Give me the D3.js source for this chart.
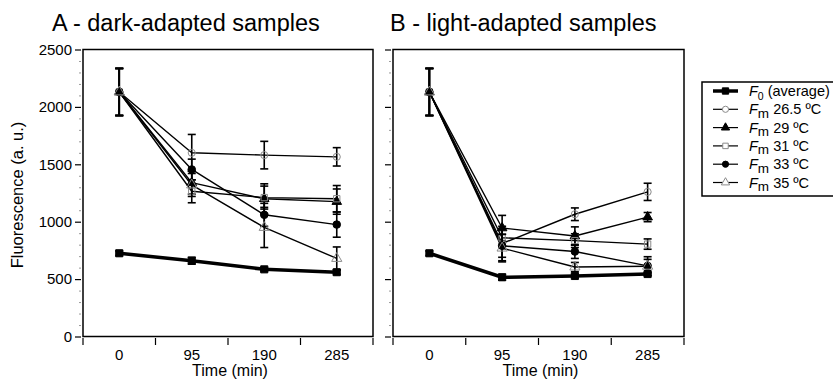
<!DOCTYPE html>
<html><head><meta charset="utf-8">
<script src="https://cdn.jsdelivr.net/npm/d3@7"></script>
<style>
body{margin:0;background:#fff;}
text{font-family:"Liberation Sans",Arial,Helvetica,sans-serif;fill:#000;}
</style></head>
<body><svg id="chart" width="833" height="382"></svg>
<script>
// ---------- DATA ----------
const times = ["0", "95", "190", "285"];
const yTicks = [0, 500, 1000, 1500, 2000, 2500];
const panelTitles = ["A - dark-adapted samples", "B - light-adapted samples"];
const seriesSub = ["0", "m", "m", "m", "m", "m"];
const seriesRest = [" (average)", " 26.5 ºC", " 29 ºC", " 31 ºC", " 33 ºC", " 35 ºC"];

// dark-adapted (A)
const darkF0     = [725, 660, 585, 560];   const darkF0Err  = [20, 30, 15, 20];
const darkFm265  = [2130, 1600, 1580, 1565]; const darkFm265Err = [205, 160, 120, 80];
const darkFm29   = [2130, 1340, 1200, 1175]; const darkFm29Err  = [205, 100, 130, 110];
const darkFm31   = [2130, 1265, 1210, 1200]; const darkFm31Err  = [205, 100, 100, 115];
const darkFm33   = [2130, 1455, 1060, 975];  const darkFm33Err  = [205, 90, 100, 110];
const darkFm35   = [2130, 1320, 950, 680];   const darkFm35Err  = [205, 100, 175, 100];

// light-adapted (B)
const lightF0    = [725, 516, 527, 544];   const lightF0Err = [20, 25, 15, 15];
const lightFm265 = [2130, 810, 1065, 1260]; const lightFm265Err = [205, 150, 55, 75];
const lightFm29  = [2130, 945, 875, 1040];  const lightFm29Err  = [205, 110, 80, 40];
const lightFm31  = [2130, 860, 835, 805];   const lightFm31Err  = [205, 80, 60, 45];
const lightFm33  = [2130, 790, 740, 615];   const lightFm33Err  = [205, 100, 60, 80];
const lightFm35  = [2130, 770, 605, 612];   const lightFm35Err  = [205, 120, 40, 60];

// ---------- STYLE ----------
const markerStyle = [
  {shape: d3.symbolSquare, size: 50, fill: "#000", stroke: "#000", lw: 3.5},
  {shape: d3.symbolCircle, size: 40, fill: "none", stroke: "#8a8a8a", lw: 1.4},
  {shape: d3.symbolTriangle, size: 40, fill: "#000", stroke: "#000", lw: 1.4},
  {shape: d3.symbolSquare, size: 40, fill: "none", stroke: "#8a8a8a", lw: 1.4},
  {shape: d3.symbolCircle, size: 45, fill: "#000", stroke: "#000", lw: 1.4},
  {shape: d3.symbolTriangle, size: 45, fill: "none", stroke: "#8a8a8a", lw: 1.4}
];

const panels = [
  {x0: 83, x1: 373, labels: true, tx: 52,
   vals: [darkF0, darkFm265, darkFm29, darkFm31, darkFm33, darkFm35],
   errs: [darkF0Err, darkFm265Err, darkFm29Err, darkFm31Err, darkFm33Err, darkFm35Err]},
  {x0: 393, x1: 684, labels: false, tx: 390,
   vals: [lightF0, lightFm265, lightFm29, lightFm31, lightFm33, lightFm35],
   errs: [lightF0Err, lightFm265Err, lightFm29Err, lightFm31Err, lightFm33Err, lightFm35Err]}
];

const svg = d3.select("#chart");
const y = d3.scaleLinear().domain([0, 2500]).range([336.5, 49.5]);
const minorTicks = d3.range(0, 2501, 100).filter(v => v % 500 !== 0);

panels.forEach((p, pi) => {
  const g = svg.append("g");
  const x = d3.scaleBand().domain(times).range([p.x0, p.x1]).padding(0);
  const cx = t => x(t) + x.bandwidth() / 2;

  // title
  g.append("text").attr("x", p.tx).attr("y", 31)
    .attr("font-size", 23.5).text(panelTitles[pi]);

  // y axis (major)
  const ya = g.append("g").attr("transform", `translate(${p.x0 - 2},0)`)
    .call(d3.axisLeft(y).tickValues(yTicks).tickSize(6).tickPadding(3)
      .tickFormat(p.labels ? d3.format("d") : () => ""));
  ya.select(".domain").remove();
  ya.selectAll("line").attr("stroke", "#000").attr("stroke-width", 1.2);
  ya.selectAll("text").attr("font-size", 15);
  // minor
  const ym = g.append("g").attr("transform", `translate(${p.x0 - 2},0)`)
    .call(d3.axisLeft(y).tickValues(minorTicks).tickSize(2).tickFormat(() => ""));
  ym.select(".domain").remove();
  ym.selectAll("line").attr("stroke", "#999").attr("stroke-width", 1);

  // x axis: labels at band centres, ticks at band boundaries
  const xa = g.append("g").attr("transform", `translate(0,348)`)
    .call(d3.axisBottom(x).tickSize(0).tickPadding(1));
  xa.select(".domain").remove();
  xa.selectAll("text").attr("font-size", 15);
  const bounds = times.map(t => x(t)).concat([x.range()[1]]);
  g.selectAll(".xt").data(bounds).join("line")
    .attr("x1", d => d).attr("x2", d => d).attr("y1", 338).attr("y2", 345)
    .attr("stroke", "#000").attr("stroke-width", 1.2);

  g.append("text").attr("x", (p.x0 + p.x1) / 2 + 2).attr("y", 376)
    .attr("text-anchor", "middle").attr("font-size", 16).text("Time (min)");

  // frame
  g.append("rect").attr("x", p.x0).attr("y", y(2500)).attr("width", p.x1 - p.x0)
    .attr("height", y(0) - y(2500)).attr("fill", "none").attr("stroke", "#000").attr("stroke-width", 1.5);

  const line = d3.line().x((d, i) => cx(times[i])).y(d => y(d));
  const order = [1, 2, 3, 4, 5, 0];
  order.forEach(si => {
    const st = markerStyle[si];
    g.append("path").datum(p.vals[si]).attr("d", line).attr("fill", "none")
      .attr("stroke", "#000").attr("stroke-width", st.lw).attr("stroke-linejoin", "round");
  });
  order.forEach(si => {
    const st = markerStyle[si];
    const vals = p.vals[si], errs = p.errs[si];
    vals.forEach((v, i) => {
      const X = cx(times[i]);
      const e = errs[i];
      g.append("line").attr("x1", X).attr("x2", X).attr("y1", y(v - e)).attr("y2", y(v + e))
        .attr("stroke", "#000").attr("stroke-width", 1.6);
      [v - e, v + e].forEach(c => g.append("line").attr("x1", X - 4).attr("x2", X + 4)
        .attr("y1", y(c)).attr("y2", y(c)).attr("stroke", "#000").attr("stroke-width", 1.6));
      g.append("path").attr("d", d3.symbol().type(st.shape).size(st.size)())
        .attr("transform", `translate(${X},${y(v)})`)
        .attr("fill", st.fill).attr("stroke", st.stroke).attr("stroke-width", 1);
    });
  });
});

// y-axis title
svg.append("text").attr("transform", "translate(23,195) rotate(-90)")
  .attr("text-anchor", "middle").attr("font-size", 16.5).text("Fluorescence (a. u.)");

// legend
const lg = svg.append("g");
const legTop = 82, legBottom = 196, rowY0 = 91, rowStep = 18.3;
lg.append("rect").attr("x", 702).attr("y", legTop).attr("width", 150).attr("height", legBottom - legTop)
  .attr("fill", "#fff").attr("stroke", "#000").attr("stroke-width", 1.5);
seriesSub.forEach((sub, i) => {
  const st = markerStyle[i];
  const ry = rowY0 + i * rowStep;
  lg.append("line").attr("x1", 713).attr("x2", 738).attr("y1", ry).attr("y2", ry)
    .attr("stroke", "#000").attr("stroke-width", i === 0 ? 3.5 : 1.2);
  lg.append("path").attr("d", d3.symbol().type(st.shape).size(i === 0 ? 40 : 30)())
    .attr("transform", `translate(725.5,${ry})`).attr("fill", st.fill === "none" ? "#fff" : st.fill)
    .attr("stroke", st.stroke).attr("stroke-width", 1);
  const t = lg.append("text").attr("x", 749).attr("y", ry + 5).attr("font-size", 14.5);
  t.append("tspan").attr("font-style", "italic").text("F");
  t.append("tspan").attr("dy", 3.5).attr("font-size", i === 0 ? 10.5 : 13.5).text(sub);
  t.append("tspan").attr("dy", -3.5).text(seriesRest[i]);
});
</script></body></html>
